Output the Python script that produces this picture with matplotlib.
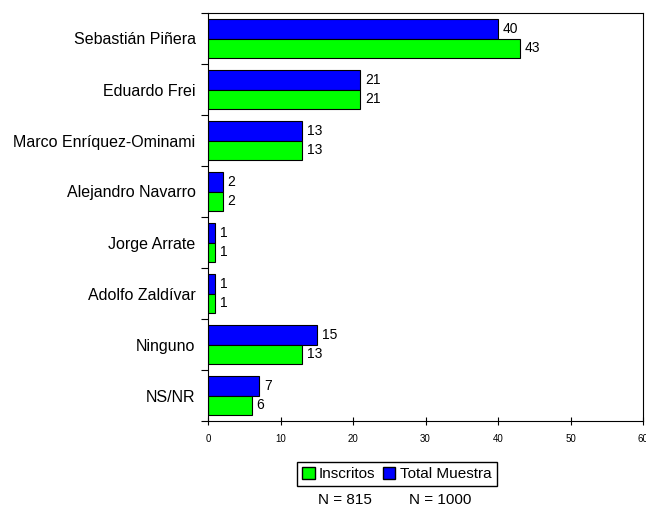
import numpy as np
import matplotlib
matplotlib.use("Agg")
import matplotlib.pyplot as plt
from matplotlib.patches import Patch

plt.rcParams['font.family'] = ['Liberation Sans', 'DejaVu Sans']

candidatos = ['Sebastián Piñera', 'Eduardo Frei', 'Marco Enríquez-Ominami',
              'Alejandro Navarro', 'Jorge Arrate', 'Adolfo Zaldívar',
              'Ninguno', 'NS/NR']
total_muestra = [40, 21, 13, 2, 1, 1, 15, 7]
inscritos = [43, 21, 13, 2, 1, 1, 13, 6]
xticks = [0, 10, 20, 30, 40, 50, 60]

fig = plt.figure(figsize=(6.46, 5.08), dpi=100)
ax = fig.add_axes([208/646, 1 - 421/508, 435/646, 408/508])

y = np.arange(len(candidatos))
h = 0.375
ax.barh(y - h/2, total_muestra, height=h, color='#0000ff', edgecolor='black', linewidth=0.8)
ax.barh(y + h/2, inscritos, height=h, color='#00ff00', edgecolor='black', linewidth=0.8)

for i in range(len(candidatos)):
    ax.text(total_muestra[i] + 0.7, y[i] - h/2, str(total_muestra[i]), va='center', ha='left', fontsize=10)
    ax.text(inscritos[i] + 0.7, y[i] + h/2, str(inscritos[i]), va='center', ha='left', fontsize=10)

ax.set_ylim(len(candidatos) - 0.5, -0.5)
ax.set_xlim(0, 60)
ax.set_xticks(xticks)
ax.set_xticklabels([str(t) for t in xticks], fontsize=7)
ax.tick_params(axis='x', direction='inout', length=6, width=0.8, pad=6)

# category labels centred, ticks on the boundaries
ax.set_yticks(np.arange(len(candidatos) + 1) - 0.5)
ax.set_yticklabels([])
ax.tick_params(axis='y', direction='out', length=5, width=0.8)
ax.set_yticks(y, minor=True)
ax.set_yticklabels(candidatos, minor=True, fontsize=11.5)
ax.tick_params(axis='y', which='minor', length=0, pad=9)

for s in ax.spines.values():
    s.set_linewidth(0.8)

handles = [Patch(facecolor='#00ff00', edgecolor='black', label='Inscritos'),
           Patch(facecolor='#0000ff', edgecolor='black', label='Total Muestra')]
fig.legend(handles=handles, loc='center', bbox_to_anchor=(397/646, 1 - 474/508), ncol=2,
           fontsize=11, frameon=True, fancybox=False, edgecolor='black',
           handlelength=0.8, handleheight=0.8, handletextpad=0.3, columnspacing=0.5,
           borderpad=0.35, framealpha=1)
fig.text(345/646, 1 - 500/508, 'N = 815', ha='center', va='center', fontsize=11)
fig.text(440/646, 1 - 500/508, 'N = 1000', ha='center', va='center', fontsize=11)

fig.savefig('out.png', dpi=100)
